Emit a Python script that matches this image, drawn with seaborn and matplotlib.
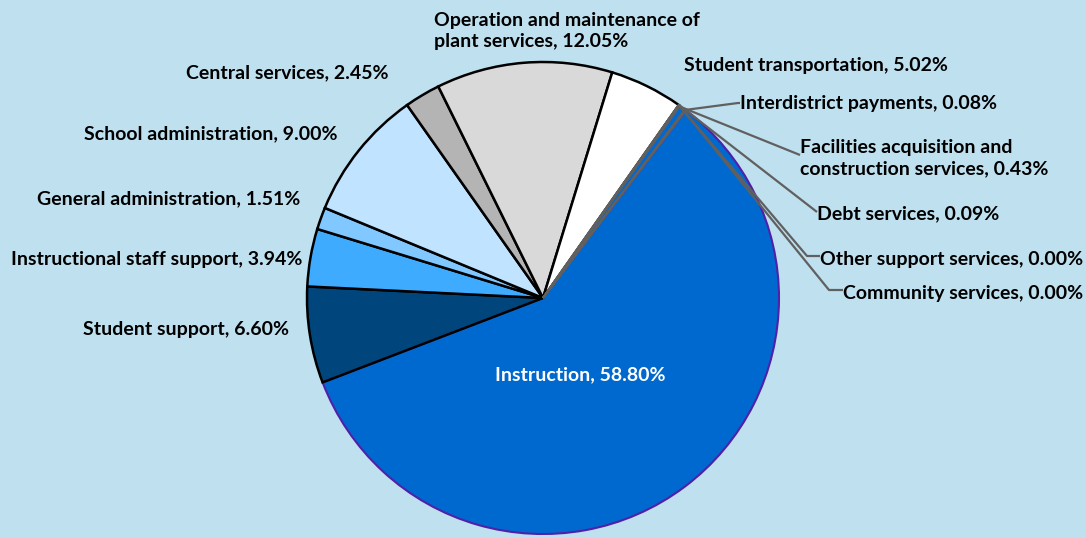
import numpy as np
import seaborn as sns
import matplotlib.pyplot as plt

sns.set_theme(style="white")
plt.rcParams['font.family'] = ['Lato', 'DejaVu Sans']
plt.rcParams['text.color'] = 'black'

# spending categories, in the order they go round the pie (clockwise)
categories = ["Instruction", "Student support", "Instructional staff support",
              "General administration", "School administration", "Central services",
              "Operation and maintenance of\nplant services", "Student transportation",
              "Community services", "Other support services", "Debt services",
              "Facilities acquisition and\nconstruction services", "Interdistrict payments"]
shares = [58.80, 6.60, 3.94, 1.51, 9.00, 2.45, 12.05, 5.02, 0.00, 0.00, 0.09, 0.43, 0.08]
colors = ["#0069CF", "#00467D", "#3EABFF", "#80C8FF", "#C0E4FF", "#B4B4B4",
          "#D9D9D9", "#FFFFFF", "#C0E4FF", "#C0E4FF", "#0069CF", "#0069CF", "#BDE3F5"]

bg = "#BFE0EF"
W, H = 1086, 538
cx, cy, R = 543, 298, 236

fig = plt.figure(figsize=(W / 100, H / 100), dpi=100, facecolor=bg)
ax = fig.add_axes([(cx - R) / W, (H - cy - R) / H, 2 * R / W, 2 * R / H])
ax.set_facecolor(bg)

wedges, _ = ax.pie(shares, colors=colors, startangle=52.7, counterclock=False,
                   wedgeprops=dict(edgecolor="black", linewidth=1.8))
wedges[0].set_edgecolor("#5020A8")
wedges[0].set_linewidth(1.5)
for w in wedges[8:]:
    w.set_edgecolor("#606060")
    w.set_linewidth(1.5)
ax.set_xlim(-1, 1)
ax.set_ylim(-1, 1)
ax.axis("off")


def px(x, y):
    return (x - cx) / R, (cy - y) / R


def label(i):
    return f"{categories[i]}, {shares[i]:.2f}%"


def edge_point(i, r=1.0):
    w = wedges[i]
    a = np.deg2rad((w.theta1 + w.theta2) / 2)
    return r * np.cos(a), r * np.sin(a)


fs = 14.0
# labels without leader lines (left side and top)
plain = {0: (580, 375, "center", "white"), 1: (289, 330, "right", "black"),
         2: (302, 259, "right", "black"), 3: (300, 199, "right", "black"),
         4: (337, 134, "right", "black"), 5: (389, 73, "right", "black"),
         7: (684, 65, "left", "black")}
for i, (x, y, ha, c) in plain.items():
    ax.text(*px(x, y), label(i), ha=ha, va="center", fontsize=fs,
            fontweight="bold", color=c)
ax.text(*px(434, 31), label(6), ha="left", va="center", fontsize=fs,
        fontweight="bold", color="black", linespacing=1.35)

# small slices with leader lines: (elbow point, text x, text y)
leaders = {12: ((738, 103), 740, 104), 11: ((800, 155), 800, 158),
           10: ((817, 212), 817, 214), 9: ((807, 256), 820, 260),
           8: ((829, 290), 843, 293)}
for i, (elbow, tx, ty) in leaders.items():
    sx, sy = edge_point(i)
    ex, ey = px(*elbow)
    ax.plot([sx, ex, px(tx, 0)[0]], [sy, ey, ey], color="#606060", lw=1.6,
            solid_capstyle="butt", clip_on=False)
    ax.text(*px(tx, ty), label(i), ha="left", va="center", fontsize=fs,
            fontweight="bold", color="black", linespacing=1.35)

fig.savefig("out.png", dpi=100, facecolor=bg)
